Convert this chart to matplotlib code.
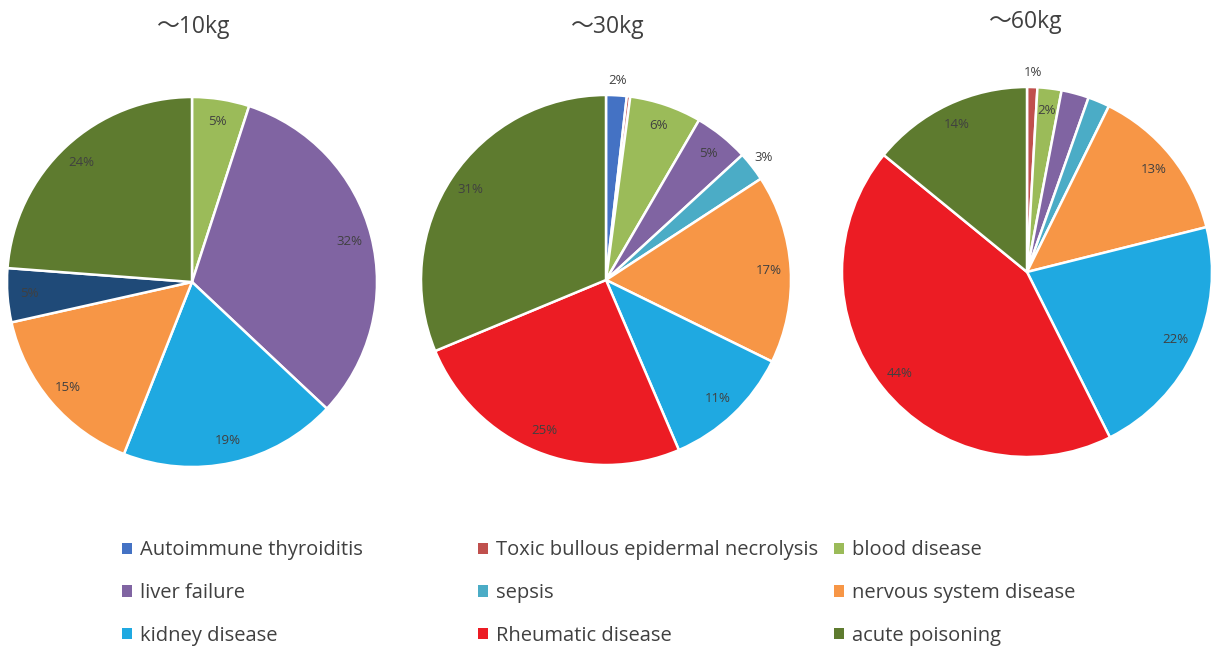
import matplotlib.pyplot as plt
from matplotlib.patches import Patch
import numpy as np

plt.rcParams['font.family'] = ['Open Sans', 'Noto Sans CJK SC', 'DejaVu Sans']

titles = ["～10kg", "～30kg", "～60kg"]

legend_names = ["Autoimmune thyroiditis", "Toxic bullous epidermal necrolysis", "blood disease",
                "liver failure", "sepsis", "nervous system disease",
                "kidney disease", "Rheumatic disease", "acute poisoning"]
legend_colors = ["#4472C4", "#C0504D", "#9BBB59",
                 "#8064A2", "#4BACC6", "#F79646",
                 "#1FA9E1", "#EC1C24", "#5E7B2F"]
color_of = dict(zip(legend_names, legend_colors))
color_of["other"] = "#1F4A78"

# ~10kg
cats_10 = ["blood disease", "liver failure", "kidney disease",
           "nervous system disease", "other", "acute poisoning"]
vals_10 = [5.0, 32.0, 19.0, 15.5, 4.7, 23.8]
labels_10 = ["5%", "32%", "19%", "15%", "5%", "24%"]

# ~30kg
cats_30 = ["Autoimmune thyroiditis", "Toxic bullous epidermal necrolysis", "blood disease",
           "liver failure", "sepsis", "nervous system disease",
           "kidney disease", "Rheumatic disease", "acute poisoning"]
vals_30 = [1.8, 0.3, 6.3, 4.8, 2.6, 16.5, 11.3, 25.2, 31.3]
labels_30 = ["2%", "", "6%", "5%", "3%", "17%", "11%", "25%", "31%"]

# ~60kg
cats_60 = ["Toxic bullous epidermal necrolysis", "blood disease", "liver failure",
           "sepsis", "nervous system disease", "kidney disease",
           "Rheumatic disease", "acute poisoning"]
vals_60 = [0.9, 2.1, 2.4, 1.9, 13.8, 21.5, 43.3, 14.1]
labels_60 = ["1%", "2%", "", "", "13%", "22%", "44%", "14%"]

pies = [(cats_10, vals_10, labels_10),
        (cats_30, vals_30, labels_30),
        (cats_60, vals_60, labels_60)]

# labels placed outside the pie
outside = {(1, 0), (1, 4), (2, 0)}

W, H = 1223, 658
fig = plt.figure(figsize=(W / 100, H / 100), dpi=100)
centers = [(192, 282), (606, 280), (1027, 272)]
title_pos = [(193, 27), (607, 27), (1025, 22)]
R = 185
half = R * 1.25

for i, (cats, vals, labs) in enumerate(pies):
    cx, cy = centers[i]
    ax = fig.add_axes([(cx - half) / W, (H - cy - half) / H, 2 * half / W, 2 * half / H])
    wedges, _ = ax.pie(vals, colors=[color_of[c] for c in cats], startangle=90,
                       counterclock=False,
                       wedgeprops=dict(edgecolor="white", linewidth=1.8))
    ax.set_xlim(-1.25, 1.25)
    ax.set_ylim(-1.25, 1.25)
    for j, (w, lab) in enumerate(zip(wedges, labs)):
        if not lab:
            continue
        mid = np.deg2rad((w.theta1 + w.theta2) / 2)
        r = 1.08 if (i, j) in outside else 0.88
        ax.text(r * np.cos(mid), r * np.sin(mid), lab, ha="center", va="center",
                fontsize=9.5, color="#404040")
    tx, ty = title_pos[i]
    fig.text(tx / W, 1 - ty / H, titles[i], ha="center", va="center",
             fontsize=16.5, color="#404040")

# legend, three columns
col_x = [122, 478, 834]
for k in range(3):
    names = legend_names[k::3]
    handles = [Patch(facecolor=color_of[n], edgecolor="none") for n in names]
    fig.legend(handles, names, loc="center left",
               bbox_to_anchor=(col_x[k] / W, 1 - 593 / H),
               frameon=False, fontsize=14.5, labelcolor="#404040",
               handlelength=0.5, handleheight=0.5, handletextpad=0.4,
               labelspacing=1.12, borderpad=0, borderaxespad=0)

fig.savefig("out.png", dpi=100, facecolor="white")
